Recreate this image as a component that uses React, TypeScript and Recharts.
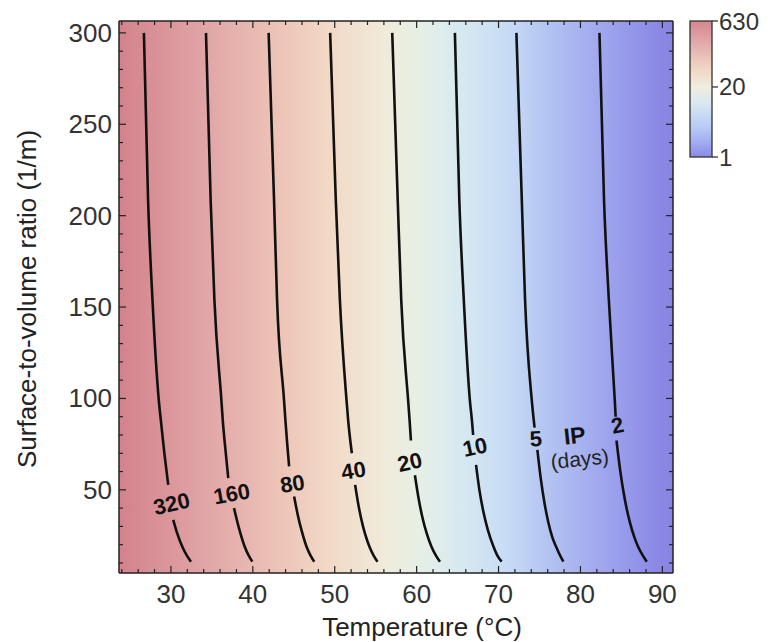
import { CartesianGrid, ComposedChart, Label, Line, ReferenceDot, XAxis, YAxis } from "recharts";

const FONT = '"Liberation Sans", Arial, Helvetica, sans-serif';

// axis ranges (temperature in °C, surface-to-volume ratio in 1/m)
const xDomain = [23.66, 91.3];
const yDomain = [4.5, 306.5];

const xMajorTicks = [30, 40, 50, 60, 70, 80, 90];
const xAllTicks = [
  24, 26, 28, 30, 32, 34, 36, 38, 40, 42, 44, 46, 48, 50, 52, 54, 56, 58, 60,
  62, 64, 66, 68, 70, 72, 74, 76, 78, 80, 82, 84, 86, 88, 90,
];
const yMajorTicks = [50, 100, 150, 200, 250, 300];
const yAllTicks = [
  10, 20, 30, 40, 50, 60, 70, 80, 90, 100, 110, 120, 130, 140, 150, 160, 170,
  180, 190, 200, 210, 220, 230, 240, 250, 260, 270, 280, 290, 300,
];

// contour lines of incubation period (days): [temperature, ratio], null = gap for label
const contour320 = [
  [26.7, 300], [27.21, 208.5], [27.75, 153.7], [28.52, 99], [28.77, 88], [29.2, 70],
  [29.67, 52.7], [30.08, null], [30.28, 33.6], [30.78, 26], [31.38, 19], [31.95, 14], [32.45, 10.7],
];
const contour160 = [
  [34.28, 300], [34.85, 208.5], [35.31, 153.7], [36.16, 99], [36.33, 88], [36.7, 70],
  [37.0, 56.4], [37.42, null], [37.7, 40], [38.25, 30], [39.0, 19], [39.5, 14], [39.94, 10.7],
];
const contour80 = [
  [41.93, 300], [42.59, 208.5], [42.96, 153.7], [43.81, 99], [43.98, 88], [44.2, 75],
  [44.43, 62.8], [44.83, null], [45.04, 46.3], [45.5, 36], [46.0, 27], [46.55, 19], [47.05, 14], [47.5, 10.7],
];
const contour40 = [
  [49.44, 300], [50.13, 208.5], [50.63, 153.7], [51.44, 99], [51.64, 88], [52.09, 70],
  [52.29, null], [52.49, 52.7], [52.96, 40], [53.45, 30], [53.98, 22], [54.32, 18], [54.75, 14], [55.22, 10.7],
];
const contour20 = [
  [57.02, 300], [57.69, 208.5], [58.12, 153.7], [58.96, 99], [59.14, 88], [59.3, 77],
  [59.55, null], [59.79, 58], [60.25, 45], [60.7, 35], [61.24, 26], [61.8, 19], [62.36, 14], [62.85, 10.7],
];
const contour10 = [
  [64.67, 300], [65.21, 208.5], [65.76, 153.7], [66.5, 99], [66.75, 88], [66.9, 80],
  [67.1, null], [67.25, 63.7], [67.66, 50], [68.15, 38], [68.7, 28], [69.38, 19], [69.86, 14], [70.38, 10.7],
];
const contour5 = [
  [72.18, 300], [72.84, 208.5], [73.24, 153.7], [74.06, 99], [74.3, 88], [74.4, 84],
  [74.55, null], [74.74, 71.9], [75.19, 55], [75.64, 42], [76.09, 32], [76.57, 24], [77.02, 19], [77.47, 14.5], [77.92, 10.7],
];
const contour2 = [
  [82.32, 300], [82.88, 208.5], [83.47, 153.7], [84.19, 99], [84.3, 90],
  [84.35, null], [84.4, 77], [84.87, 60], [85.41, 45], [85.99, 33], [86.59, 24], [87.03, 19], [87.55, 14.5], [88.1, 10.7],
];

const contourLevels = ["320", "160", "80", "40", "20", "10", "5", "2"];
const contourLines = [contour320, contour160, contour80, contour40, contour20, contour10, contour5, contour2];
const labelT = [30.08, 37.42, 44.83, 52.29, 59.17, 67.13, 74.55, 84.52];
const labelS = [42.3, 47.8, 53.3, 60.5, 65.1, 73.3, 77.9, 85.2];
const labelAngle = [-13, -10, -9, -9, -13, -12, -4, -12];

const colorbarValues = ["630", "20", "1"];

const bgStops = [
  [0, "#D3828B"], [0.16, "#E1A6A7"], [0.29, "#EDC4B7"], [0.38, "#F2D9C6"],
  [0.48, "#F0EBDA"], [0.545, "#E6EFE6"], [0.61, "#D8EAF0"], [0.705, "#C6DBF6"],
  [0.77, "#B4C5F2"], [0.87, "#A0A7EE"], [0.97, "#8C89E5"], [1, "#8884E2"],
];
const barStops = [
  [0, "#D5868E"], [0.18, "#E4AEAE"], [0.35, "#F0D6C4"], [0.49, "#F0EEE0"],
  [0.62, "#D5E6F2"], [0.78, "#B7CBF5"], [0.9, "#A0AAF0"], [1, "#8A88E6"],
];

const toPoints = (pts: (number | null)[][]) => pts.map(([t, s]) => ({ t, s }));

function BottomTick(props: any) {
  const { x, y, payload } = props;
  const major = xMajorTicks.includes(payload.value);
  return (
    <g>
      <line x1={x} x2={x} y1={y} y2={y - (major ? 7 : 4)} stroke="#222" strokeWidth={1.2} />
      {major && (
        <text x={x} y={y + 30} textAnchor="middle" fontSize={26} fill="#333" fontFamily={FONT}>
          {payload.value}
        </text>
      )}
    </g>
  );
}

function TopTick(props: any) {
  const { x, y, payload } = props;
  const major = xMajorTicks.includes(payload.value);
  return <line x1={x} x2={x} y1={y} y2={y + (major ? 7 : 4)} stroke="#222" strokeWidth={1.2} />;
}

function LeftTick(props: any) {
  const { x, y, payload } = props;
  const major = yMajorTicks.includes(payload.value);
  return (
    <g>
      <line x1={x} x2={x + (major ? 7 : 4)} y1={y} y2={y} stroke="#222" strokeWidth={1.2} />
      {major && (
        <text x={x - 7} y={y + 9} textAnchor="end" fontSize={26} fill="#333" fontFamily={FONT}>
          {payload.value}
        </text>
      )}
    </g>
  );
}

function RightTick(props: any) {
  const { x, y, payload } = props;
  const major = yMajorTicks.includes(payload.value);
  return <line x1={x} x2={x - (major ? 7 : 4)} y1={y} y2={y} stroke="#222" strokeWidth={1.2} />;
}

function Colorbar() {
  const left = 690;
  const top = 21;
  const w = 22;
  const h = 136;
  // tick offsets from the top of the bar, as drawn in the figure
  const tickPos = [0, 0.485, 1];
  return (
    <svg width={768} height={642} style={{ position: "absolute", left: 0, top: 0, pointerEvents: "none" }}>
      <defs>
        <linearGradient id="barGrad" x1="0" y1="0" x2="0" y2="1">
          {barStops.map(([o, c]) => (
            <stop key={String(o)} offset={o as number} stopColor={c as string} />
          ))}
        </linearGradient>
      </defs>
      <rect x={left} y={top} width={w} height={h} fill="url(#barGrad)" stroke="#333" strokeWidth={1.3} />
      {colorbarValues.map((v, i) => {
        const y = top + tickPos[i] * h;
        return (
          <g key={v}>
            <line x1={left + w} x2={left + w + 6} y1={y} y2={y} stroke="#333" strokeWidth={1.3} />
            <text x={left + w + 7} y={y + 8.5} fontSize={24} fill="#333" fontFamily={FONT}>
              {v}
            </text>
          </g>
        );
      })}
    </svg>
  );
}

const textLabel = (txt: string, angle: number, size: number, bold: boolean, color: string) => (p: any) => (
  <text
    x={p.cx}
    y={p.cy}
    transform={`rotate(${angle} ${p.cx} ${p.cy})`}
    textAnchor="middle"
    dominantBaseline="central"
    fontSize={size}
    fontWeight={bold ? "bold" : "normal"}
    fill={color}
    fontFamily={FONT}
  >
    {txt}
  </text>
);

export default function App() {
  return (
    <div style={{ position: "absolute", left: 0, top: 0, width: 768, height: 642, background: "#fff" }}>
      <ComposedChart width={768} height={642} margin={{ top: 20, right: 94, bottom: 0, left: 0 }}>
        <defs>
          <linearGradient id="ipBg" x1="0" y1="0" x2="1" y2="0">
            {bgStops.map(([o, c]) => (
              <stop key={String(o)} offset={o as number} stopColor={c as string} />
            ))}
          </linearGradient>
        </defs>
        <CartesianGrid horizontal={false} vertical={false} fill="url(#ipBg)" fillOpacity={1} stroke="none" />
        <XAxis
          dataKey="t"
          type="number"
          domain={xDomain}
          allowDataOverflow
          ticks={xAllTicks}
          interval={0}
          tick={<BottomTick />}
          tickLine={false}
          tickSize={0.01}
          tickMargin={0.01}
          height={69}
          axisLine={{ stroke: "#222", strokeWidth: 1.5 }}
        >
          <Label
            content={() => (
              <text x={422} y={636} textAnchor="middle" fontSize={26} fill="#222" fontFamily={FONT}>
                Temperature (°C)
              </text>
            )}
          />
        </XAxis>
        <XAxis
          xAxisId="top"
          orientation="top"
          dataKey="t"
          type="number"
          domain={xDomain}
          allowDataOverflow
          ticks={xAllTicks}
          interval={0}
          tick={<TopTick />}
          tickLine={false}
          tickSize={0.01}
          tickMargin={0.01}
          height={1}
          axisLine={{ stroke: "#222", strokeWidth: 1.5 }}
        />
        <YAxis
          type="number"
          domain={yDomain}
          allowDataOverflow
          ticks={yAllTicks}
          interval={0}
          tick={<LeftTick />}
          tickLine={false}
          tickSize={0.01}
          tickMargin={0.01}
          width={119}
          axisLine={{ stroke: "#222", strokeWidth: 1.5 }}
        >
          <Label
            content={() => (
              <text
                x={0}
                y={0}
                transform="translate(36,299) rotate(-90)"
                textAnchor="middle"
                fontSize={26}
                fill="#222"
                fontFamily={FONT}
              >
                Surface-to-volume ratio (1/m)
              </text>
            )}
          />
        </YAxis>
        <YAxis
          yAxisId="right"
          orientation="right"
          type="number"
          domain={yDomain}
          allowDataOverflow
          ticks={yAllTicks}
          interval={0}
          tick={<RightTick />}
          tickLine={false}
          tickSize={0.01}
          tickMargin={0.01}
          width={1}
          axisLine={{ stroke: "#222", strokeWidth: 1.5 }}
        />

        {contourLines.map((pts, i) => (
          <Line
            key={contourLevels[i]}
            data={toPoints(pts)}
            dataKey="s"
            type="monotone"
            stroke="#111"
            strokeWidth={2.6}
            dot={false}
            activeDot={false}
            connectNulls={false}
            isAnimationActive={false}
          />
        ))}

        {contourLevels.map((lvl, i) => (
          <ReferenceDot
            key={"lbl" + lvl}
            x={labelT[i]}
            y={labelS[i]}
            r={0}
            shape={textLabel(lvl, labelAngle[i], 22, true, "#111")}
          />
        ))}

        <ReferenceDot x={79.3} y={79.7} r={0} shape={textLabel("IP", -6, 23, true, "#111")} />
        <ReferenceDot x={79.9} y={67} r={0} shape={textLabel("(days)", -6, 21, false, "#222")} />
      </ComposedChart>
      <Colorbar />
    </div>
  );
}
